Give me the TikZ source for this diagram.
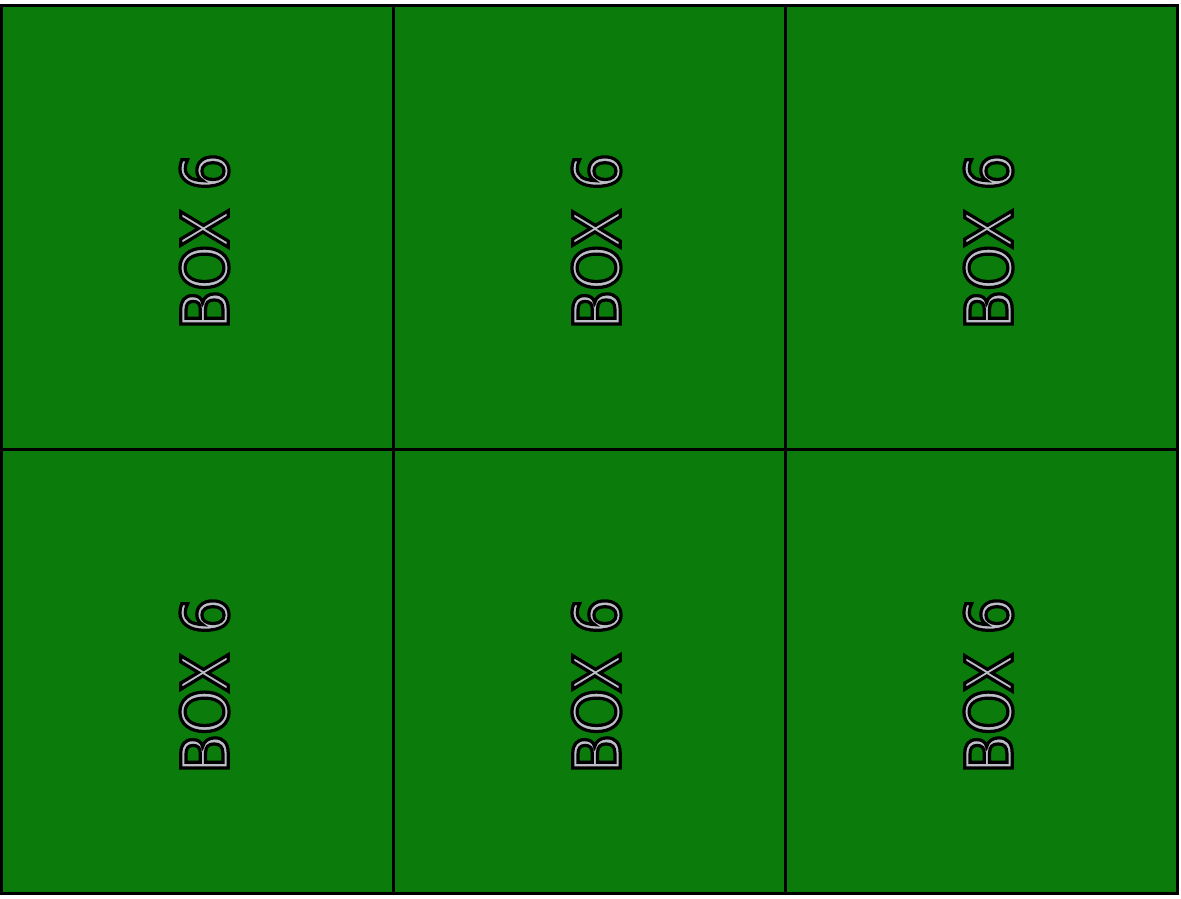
\documentclass[tikz,border=0pt]{standalone}
\usepackage{fontspec}
\newfontfamily\boxfont{DejaVu Sans Condensed}
\definecolor{cellgreen}{RGB}{11,123,11}
\definecolor{txtgray}{RGB}{190,190,200}
\newcommand{\outlinetext}[1]{\special{pdf:literal direct 2 Tr 0 0 0 RG 3.2 w}#1\special{pdf:literal direct 0 Tr}}
\tikzset{
  cell/.style={draw=black, line width=3pt, fill=cellgreen, minimum width=392pt, minimum height=444pt, inner sep=0pt, outer sep=0pt},
  boxlabel/.style={rotate=90, inner sep=0pt, font=\boxfont\fontsize{65}{65}\selectfont, text=txtgray}
}
\begin{document}
\begin{tikzpicture}[x=1pt,y=-1pt]
\useasboundingbox (0,0) rectangle (1181,899);
\node[cell] (c11) at (197.5,227.5) {};
\node[cell] (c12) at (589.5,227.5) {};
\node[cell] (c13) at (981.5,227.5) {};
\node[cell] (c21) at (197.5,671.5) {};
\node[cell] (c22) at (589.5,671.5) {};
\node[cell] (c23) at (981.5,671.5) {};
\foreach \c in {c11,c12,c13,c21,c22,c23}{
  \node[boxlabel] (l\c) at ([xshift=7pt,yshift=-14pt]\c.center) {\outlinetext{BOX 6}};
}
\end{tikzpicture}
\end{document}
